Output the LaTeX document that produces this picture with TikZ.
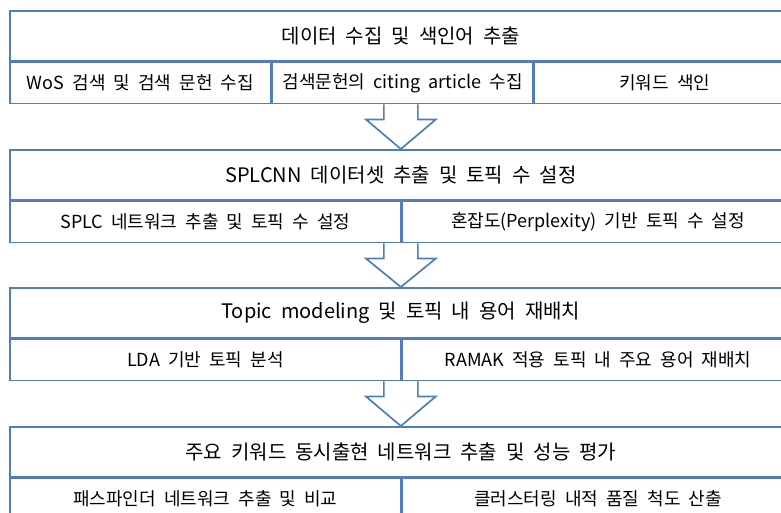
\documentclass[tikz,border=0pt]{standalone}
\usepackage{fontspec}
\setmainfont{Noto Sans CJK KR}[WordSpace=2]
\usetikzlibrary{positioning,calc}
\definecolor{lineblue}{RGB}{79,125,190}

% block arrow between two stages
\newcommand{\stagearrow}[3]{%
  \draw[bigarrow] ($(#1 |- #2.south)+(-17,0)$) -- ++(0,15) -- ++(-18,0) -- (#3.north)
    -- ($(#1 |- #2.south)+(35,15)$) -- ++(-18,0) -- ++(0,-15);}

\begin{document}
\begin{tikzpicture}[
        x=1pt, y=-1pt,
        titlebox/.style={rectangle, draw=lineblue, line width=1.7pt, minimum width=782, minimum height=50, inner sep=0pt, anchor=north west, font=\fontsize{20}{24}\selectfont},
        cell/.style={rectangle, draw=lineblue, line width=1.7pt, minimum height=41, inner sep=0pt, anchor=north west, font=\fontsize{18}{22}\selectfont},
        bigarrow/.style={draw=lineblue, fill=white, line width=1.7pt, line join=miter}
    ]
    \useasboundingbox (0,0) rectangle (781,512);
    \clip (0,0) rectangle (781,512);

    % Stage 1
    \node (collect) [titlebox] at (9,10) {데이터 수집 및 색인어 추출};
    \node (wos) [cell, minimum width=261] at (collect.south west) {WoS 검색 및 검색 문헌 수집};
    \node (citing) [cell, minimum width=260] at (wos.north east) {검색문헌의 citing article 수집};
    \node (index) [cell, minimum width=261] at (citing.north east) {키워드 색인};

    % Stage 2
    \node (dataset) [titlebox] at (9,149) {SPLCNN 데이터셋 추출 및 토픽 수 설정};
    \node (splc) [cell, minimum width=391] at (dataset.south west) {SPLC 네트워크 추출 및 토픽 수 설정};
    \node (perplex) [cell, minimum width=391] at (splc.north east) {혼잡도(Perplexity) 기반 토픽 수 설정};

    % Stage 3
    \node (topic) [titlebox] at (9,287) {Topic modeling 및 토픽 내 용어 재배치};
    \node (lda) [cell, minimum width=391] at (topic.south west) {LDA 기반 토픽 분석};
    \node (ramak) [cell, minimum width=391] at (lda.north east) {RAMAK 적용 토픽 내 주요 용어 재배치};

    % Stage 4
    \node (network) [titlebox] at (9,426) {주요 키워드 동시출현 네트워크 추출 및 성능 평가};
    \node (pathfinder) [cell, minimum width=391] at (network.south west) {패스파인더 네트워크 추출 및 비교};
    \node (cluster) [cell, minimum width=391] at (pathfinder.north east) {클러스터링 내적 품질 척도 산출};

    % Arrows
    \stagearrow{collect}{wos}{dataset}
    \stagearrow{dataset}{splc}{topic}
    \stagearrow{topic}{lda}{network}
\end{tikzpicture}
\end{document}
